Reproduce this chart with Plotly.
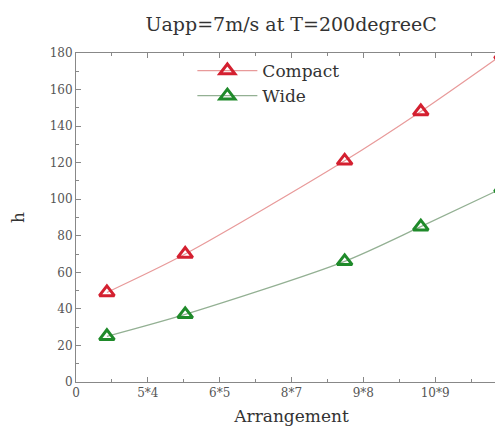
import plotly.graph_objects as go

arrangement_pos = [0.43, 1.52, 3.74, 4.80, 5.93]
compact_h = [49, 70, 121, 148, 179]
wide_h = [25, 37, 66, 85, 106]

tick_vals = [0, 1, 2, 3, 4, 5]
tick_text = ["0", "5*4", "6*5", "8*7", "9*8", "10*9"]

FONT = "DejaVu Serif"

fig = go.Figure()
fig.add_trace(go.Scatter(
    x=arrangement_pos, y=compact_h, name="Compact", mode="lines+markers",
    line=dict(color="#e89a9a", width=1.2, shape="spline", smoothing=0.8),
    marker=dict(symbol="triangle-up-open", size=13, color="#d42030",
                line=dict(width=3, color="#d42030")),
))
fig.add_trace(go.Scatter(
    x=arrangement_pos, y=wide_h, name="Wide", mode="lines+markers",
    line=dict(color="#93b093", width=1.2, shape="spline", smoothing=0.8),
    marker=dict(symbol="triangle-up-open", size=13, color="#1f8a2a",
                line=dict(width=3, color="#1f8a2a")),
))

axis_common = dict(
    showline=True, linecolor="#888888", linewidth=1, mirror="ticks",
    ticks="inside", ticklen=5, tickcolor="#888888", tickwidth=1,
    showgrid=False, zeroline=False,
    tickfont=dict(family=FONT, size=12, color="#555555"),
)

fig.update_xaxes(
    range=[0, 6], tickmode="array", tickvals=tick_vals, ticktext=tick_text,
    minor=dict(ticks="inside", ticklen=3, dtick=0.5, tickcolor="#888888"),
    title=dict(text="Arrangement", font=dict(family=FONT, size=17, color="#333333"), standoff=10),
    **axis_common,
)
fig.update_yaxes(
    range=[0, 180], dtick=20,
    minor=dict(ticks="inside", ticklen=3, dtick=10, tickcolor="#888888"),
    title=dict(text="h", font=dict(family=FONT, size=17, color="#333333"), standoff=22),
    **axis_common,
)

fig.update_layout(
    width=503, height=426,
    margin=dict(l=68, r=4, t=45, b=52),
    plot_bgcolor="white", paper_bgcolor="white",
    title=dict(text="Uapp=7m/s at T=200degreeC", x=0.563, xanchor="center",
               y=0.962, yanchor="middle",
               font=dict(family=FONT, size=19, color="#333333")),
    legend=dict(x=0.27, y=1.0, xanchor="left", yanchor="top",
                bgcolor="rgba(0,0,0,0)", font=dict(family=FONT, size=17, color="#333333"),
                itemwidth=60, tracegroupgap=0),
    showlegend=True,
)

fig.write_html("out.html")
